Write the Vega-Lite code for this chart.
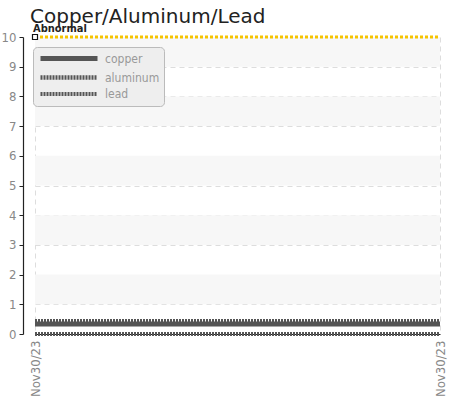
{
  "$schema": "https://vega.github.io/schema/vega-lite/v6.json",
  "autosize": "none",
  "width": 405,
  "height": 297,
  "padding": {"left": 35, "top": 37, "right": 15, "bottom": 68},
  "background": "white",
  "title": {
    "text": "Copper/Aluminum/Lead",
    "anchor": "start",
    "fontSize": 20,
    "fontWeight": "normal",
    "font": "DejaVu Sans",
    "color": "#222",
    "dx": -5,
    "offset": 0,
    "frame": "group",
    "baseline": "bottom",
    "dy": 24
  },
  "config": {
    "view": {"stroke": null},
    "font": "DejaVu Sans Condensed"
  },
  "datasets": {
    "series": [
      {"t": "2023-11-30T00:00:00", "metal": "copper", "value": 0.34},
      {"t": "2023-11-30T23:00:00", "metal": "copper", "value": 0.34},
      {"t": "2023-11-30T00:00:00", "metal": "aluminum", "value": 0.43},
      {"t": "2023-11-30T23:00:00", "metal": "aluminum", "value": 0.43},
      {"t": "2023-11-30T00:00:00", "metal": "lead", "value": 0},
      {"t": "2023-11-30T23:00:00", "metal": "lead", "value": 0}
    ],
    "bands": [
      {"lo": 9, "hi": 10},
      {"lo": 7, "hi": 8},
      {"lo": 5, "hi": 6},
      {"lo": 3, "hi": 4},
      {"lo": 1, "hi": 2}
    ],
    "threshold": [
      {"t": "2023-11-30T00:00:00", "value": 10, "label": "Abnormal"},
      {"t": "2023-11-30T23:00:00", "value": 10, "label": ""}
    ]
  },
  "layer": [
    {
      "data": {"name": "bands"},
      "mark": {"type": "rect", "color": "#f7f7f7"},
      "encoding": {
        "y": {
          "field": "lo",
          "type": "quantitative",
          "scale": {"domain": [0, 10], "nice": false},
          "axis": {
            "title": null,
            "values": [0, 1, 2, 3, 4, 5, 6, 7, 8, 9, 10],
            "tickCount": 11,
            "labelOverlap": false,
            "offset": 12,
            "labelColor": "#888",
            "labelFontSize": 13,
            "labelPadding": 3,
            "domainColor": "#222",
            "domainWidth": 1.2,
            "tickColor": "#222",
            "tickSize": 4,
            "grid": true,
            "gridColor": "#ddd",
            "gridDash": [5, 4]
          }
        },
        "y2": {"field": "hi"}
      }
    },
    {
      "data": {"name": "series"},
      "mark": {"type": "line", "color": "#555", "clip": false},
      "encoding": {
        "x": {
          "field": "t",
          "type": "temporal",
          "scale": {"nice": false},
          "axis": {
            "title": null,
            "format": "%b%d/%y",
            "values": [
              {"year": 2023, "month": 11, "date": 30, "hours": 0},
              {"year": 2023, "month": 11, "date": 30, "hours": 23}
            ],
            "labelAngle": 270,
            "labelAlign": "right",
            "labelBaseline": "middle",
            "labelColor": "#888",
            "labelFontSize": 13,
            "labelPadding": 6,
            "labelFlush": false,
            "labelOverlap": false,
            "domainColor": "#222",
            "domainWidth": 1.2,
            "tickColor": "#222",
            "tickSize": 0,
            "grid": true,
            "gridColor": "#ddd",
            "gridDash": [5, 4]
          }
        },
        "y": {
          "field": "value",
          "type": "quantitative",
          "scale": {"domain": [0, 10], "nice": false},
          "axis": {
            "title": null,
            "values": [0, 1, 2, 3, 4, 5, 6, 7, 8, 9, 10],
            "tickCount": 11,
            "labelOverlap": false,
            "offset": 12,
            "labelColor": "#888",
            "labelFontSize": 13,
            "labelPadding": 3,
            "domainColor": "#222",
            "domainWidth": 1.2,
            "tickColor": "#222",
            "tickSize": 4,
            "grid": true,
            "gridColor": "#ddd",
            "gridDash": [5, 4]
          }
        },
        "detail": {"field": "metal"},
        "strokeDash": {
          "field": "metal",
          "type": "nominal",
          "scale": {"domain": ["copper", "aluminum", "lead"], "range": [[1, 0], [2, 1], [2, 1]]},
          "legend": {
            "title": null,
            "orient": "none",
            "legendX": -2,
            "legendY": 10,
            "fillColor": "#eeeeee",
            "strokeColor": "#bbb",
            "cornerRadius": 4,
            "padding": 4,
            "labelColor": "#999",
            "labelFontSize": 12,
            "labelOffset": 53,
            "rowPadding": -1,
            "symbolType": "M-0.8,0H10.6",
            "symbolSize": 100,
            "symbolFillColor": "transparent",
            "symbolStrokeColor": "#555",
            "symbolStrokeWidth": 4
          }
        },
        "strokeWidth": {
          "field": "metal",
          "type": "nominal",
          "scale": {"domain": ["copper", "aluminum", "lead"], "range": [5, 4, 3]},
          "legend": null
        }
      }
    },
    {
      "data": {"name": "threshold"},
      "mark": {"type": "line", "color": "#f5c400", "strokeWidth": 3, "strokeDash": [3, 2], "clip": false},
      "encoding": {
        "x": {"field": "t", "type": "temporal"},
        "y": {"field": "value", "type": "quantitative"}
      }
    },
    {
      "data": {"name": "threshold"},
      "transform": [{"filter": "datum.label != ''"}],
      "mark": {"type": "point", "shape": "square", "size": 25, "filled": true, "fill": "white", "stroke": "#111", "strokeWidth": 1.2, "opacity": 1},
      "encoding": {
        "x": {"field": "t", "type": "temporal"},
        "y": {"field": "value", "type": "quantitative"}
      }
    },
    {
      "data": {"name": "threshold"},
      "transform": [{"filter": "datum.label != ''"}],
      "mark": {"type": "text", "align": "left", "baseline": "bottom", "dy": -3, "dx": -2, "fontSize": 11, "fontWeight": "bold", "color": "#222"},
      "encoding": {
        "x": {"field": "t", "type": "temporal"},
        "y": {"field": "value", "type": "quantitative"},
        "text": {"field": "label"}
      }
    }
  ]
}
